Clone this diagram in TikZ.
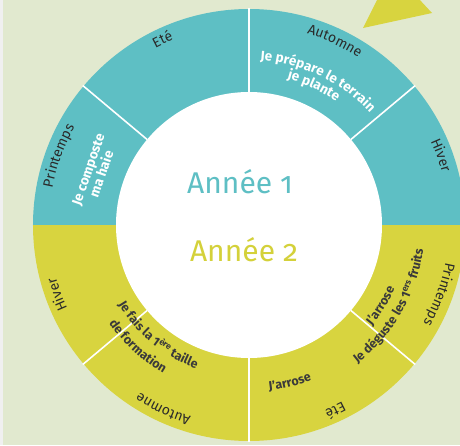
\documentclass[tikz,border=0pt]{standalone}
\usepackage{fontspec}
\setmainfont{Fira Sans}
\newfontfamily\oldnum[Numbers=OldStyle]{Fira Sans}
\usetikzlibrary{decorations.text}
\definecolor{teal1}{HTML}{5EBFC4}
\definecolor{yel1}{HTML}{D8D43F}
\definecolor{bg}{HTML}{E1E9CF}
\definecolor{lab}{HTML}{2A2A2A}
\definecolor{dark}{HTML}{3A3A3A}
\definecolor{yeltext}{HTML}{D4D13A}
\newcommand{\labf}{\fontsize{14}{16}\selectfont}
\newcommand{\whf}{\fontsize{13.5}{15}\selectfont\bfseries}
\newcommand{\dkf}{\fontsize{12.5}{14}\selectfont\bfseries}
\begin{document}
\begin{tikzpicture}[x=1pt,y=1pt,
  divider/.style={white,line width=1.6pt},
  curvelab/.style={decorate,decoration={text along path,text align=center,text color=lab,text={|\labf|#1}}},
  curvewhite/.style={decorate,decoration={text along path,text align=center,text color=white,text={|\whf|#1}}},
  curvedark/.style={decorate,decoration={text along path,text align=center,text color=dark,text={|\dkf|#1}}},
  inwhite/.style={text=white,font=\fontsize{13.5}{14}\selectfont\bfseries,align=center,inner sep=0pt},
  yeartext/.style={font=\oldnum\fontsize{30}{36}\selectfont,inner sep=0pt}]
\useasboundingbox (-249,-220) rectangle (211,225);
\clip (-249,-220) rectangle (211,225);
\fill[bg] (-249,-220) rectangle (211,225);
\fill[gray!12] (-249,-220) rectangle (-246,225);
% triangle
\fill[yel1] (114,197) -- (183,212) -- (143,255) -- cycle;
% ring
\fill[teal1] (0,0) -- (0:216) arc[start angle=0,end angle=180,radius=216] -- cycle;
\fill[yel1] (0,0) -- (180:216) arc[start angle=180,end angle=360,radius=216] -- cycle;
\fill[white] (0,0) circle[radius=133];
\foreach \a in {40,90,140,220,270,320} \draw[divider] (\a:133) -- (\a:217);
% centre
\node[yeartext,text=teal1] (y1) at (-9,43) {Année 1};
\node[yeartext,text=yeltext] (y2) at (-5,-25) {Année 2};
% season labels, year 1
\path[curvelab={Eté}] (145:200) arc[start angle=145,end angle=85,radius=200];
\path[curvelab={Printemps}] (190:200) arc[start angle=190,end angle=130,radius=200];
\path[curvelab={Automne}] (95:200) arc[start angle=95,end angle=35,radius=200];
\path[curvelab={Hiver}] (50:200) arc[start angle=50,end angle=-10,radius=200];
% season labels, year 2
\path[curvelab={Hiver}] (230:200) arc[start angle=230,end angle=170,radius=200];
\path[curvelab={Automne}] (275:200) arc[start angle=275,end angle=215,radius=200];
\path[curvelab={Eté}] (325:200) arc[start angle=325,end angle=265,radius=200];
\path[curvelab={Printemps}] (370:200) arc[start angle=370,end angle=310,radius=200];
% year 1 actions
\path[curvewhite={Je prépare le terrain}] (105:165) arc[start angle=105,end angle=24,radius=165];
\path[curvewhite={je plante}] (105:151) arc[start angle=105,end angle=25,radius=151];
\node[inwhite,rotate=71] (compost) at (161:163) {Je composte\\ma haie};
% year 2 actions
\path[curvedark={Je fais la {1\textsuperscript{ère}} taille}] (185:153) arc[start angle=185,end angle=276,radius=153];
\path[curvedark={de formation}] (182:171) arc[start angle=182,end angle=273,radius=171];
\path[curvedark={J’arrose}] (255:167) arc[start angle=255,end angle=314,radius=167];
\path[curvedark={J’arrose}] (299:159) arc[start angle=299,end angle=358,radius=159];
\path[curvedark={Je déguste les {1\textsuperscript{ers}} fruits}] (280:176) arc[start angle=280,end angle=380,radius=176];
\end{tikzpicture}
\end{document}
